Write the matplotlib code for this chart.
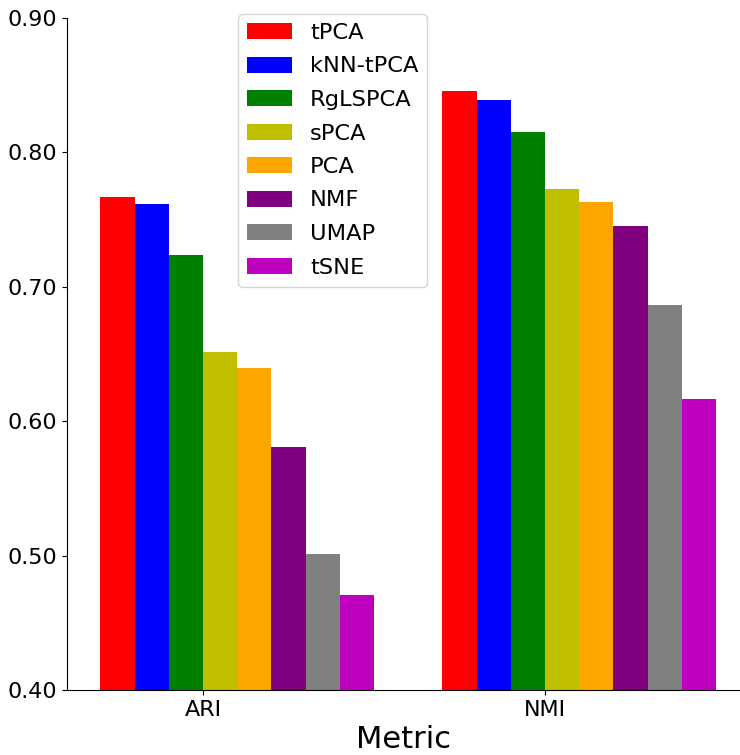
import matplotlib
matplotlib.use("Agg")
import matplotlib.pyplot as plt
import numpy as np

metrics = ["ARI", "NMI"]
methods = ["tPCA", "kNN-tPCA", "RgLSPCA", "sPCA", "PCA", "NMF", "UMAP", "tSNE"]
ari = [0.767, 0.7616, 0.7237, 0.6515, 0.6396, 0.5808, 0.5012, 0.4707]
nmi = [0.8457, 0.839, 0.8152, 0.7728, 0.7631, 0.7452, 0.6865, 0.6165]
colors = ["red", "blue", "green", "y", "orange", "purple", "gray", "m"]
yticks = [0.40, 0.50, 0.60, 0.70, 0.80, 0.90]

fig = plt.figure(figsize=(7.40, 7.55), dpi=100)
ax = fig.add_axes([67/740, 1-690/755, 1-67/740, (690-18)/755])

x = np.arange(len(metrics))
w = 0.1
for i, m in enumerate(methods):
    vals = [ari[i], nmi[i]]
    ax.bar(x + (i - 3) * w, vals, width=w, align="edge", color=colors[i], label=m)

ax.set_xticks(x)
ax.set_xticklabels(metrics, fontsize=16)
ax.set_yticks(yticks)
ax.set_yticklabels([f"{t:.2f}" for t in yticks], fontsize=16)
ax.set_ylim(0.40, 0.90)
ax.set_xlim(-0.3977, 1.570)
ax.set_xlabel("Metric", fontsize=22, labelpad=4)
ax.spines["top"].set_visible(False)
ax.spines["right"].set_visible(False)
ax.legend(loc="upper left", bbox_to_anchor=(238/740, 1-14/755),
          bbox_transform=fig.transFigure, fontsize=16.2, borderaxespad=0,
          labelspacing=0.6, handlelength=2.0)
fig.savefig("out.png", dpi=100)
